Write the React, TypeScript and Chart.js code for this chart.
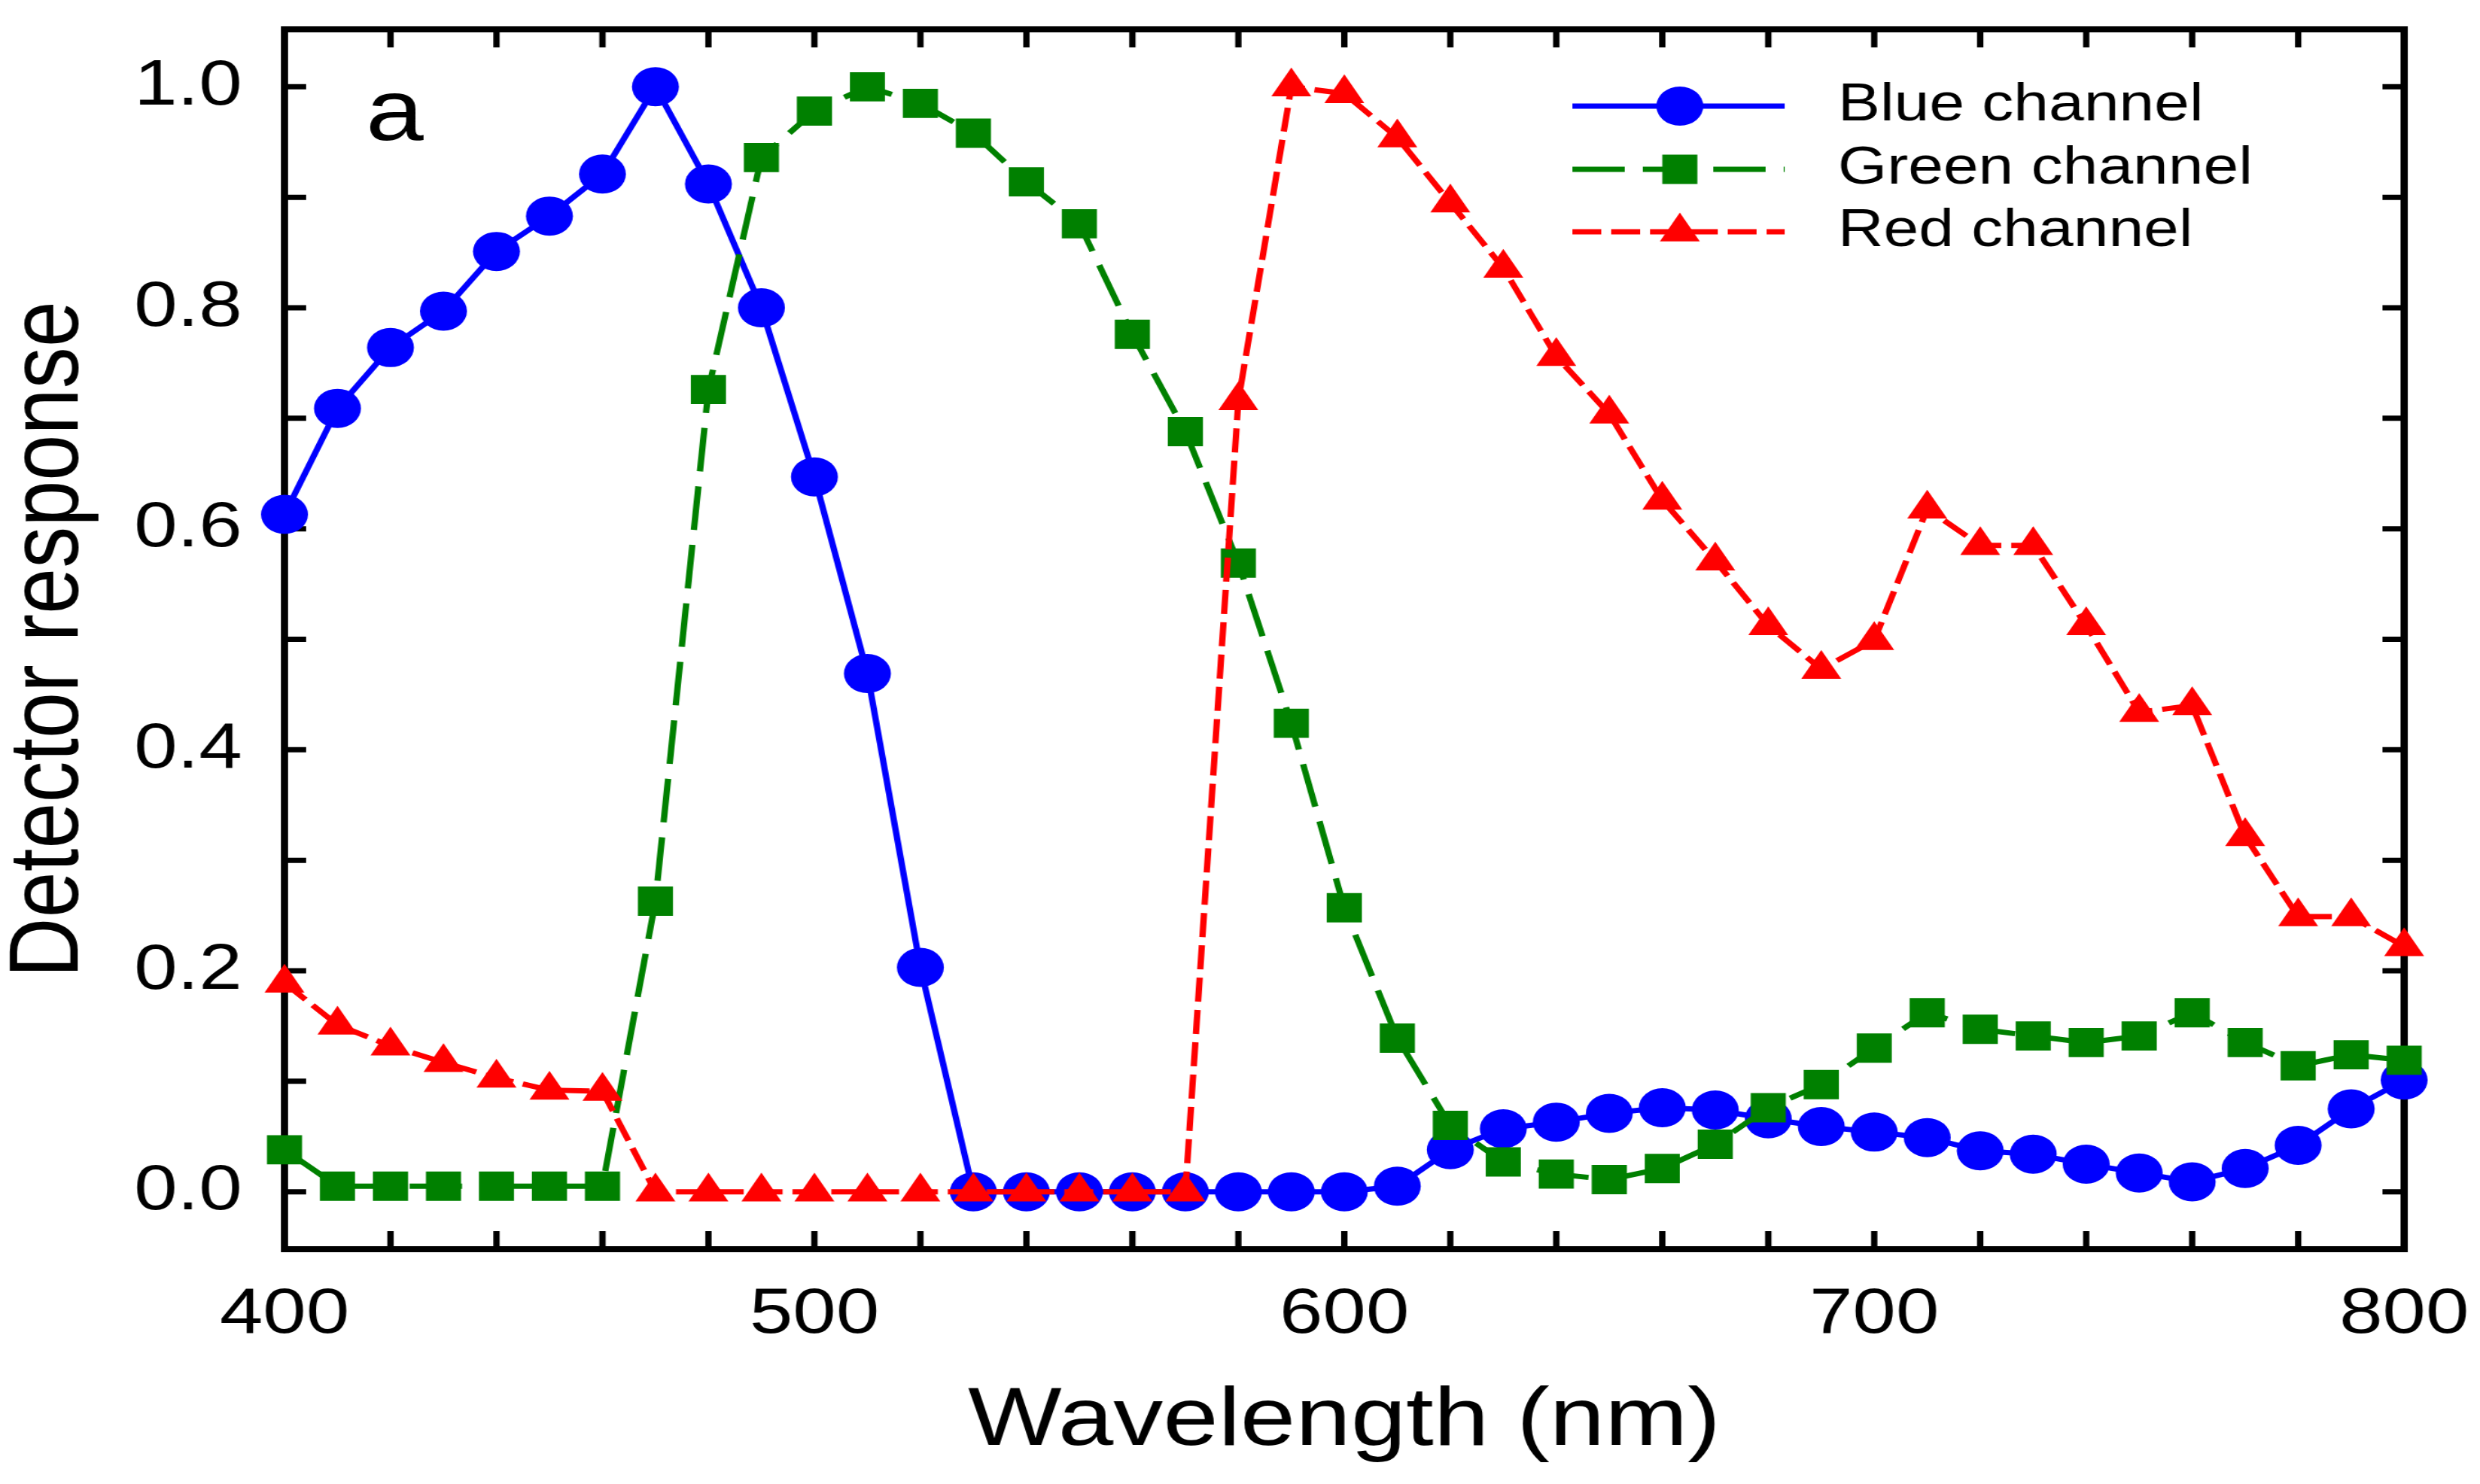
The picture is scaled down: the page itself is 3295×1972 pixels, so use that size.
import React, { useRef, useEffect } from "react";
import { Chart, registerables } from "chart.js";
import { drawPoint } from "chart.js/helpers";

Chart.register(...registerables);

// wavelength (nm) of every sample
const wavelengths = [
  400, 410, 420, 430, 440, 450, 460, 470, 480, 490, 500, 510, 520, 530, 540, 550, 560, 570, 580, 590, 600,
  610, 620, 630, 640, 650, 660, 670, 680, 690, 700, 710, 720, 730, 740, 750, 760, 770, 780, 790, 800,
];

const blueChannel = [
  0.613, 0.709, 0.764, 0.797, 0.851, 0.883, 0.921, 1.0, 0.912, 0.8, 0.647, 0.469, 0.203, 0, 0, 0, 0, 0, 0, 0, 0,
  0.005, 0.038, 0.057, 0.063, 0.071, 0.076, 0.074, 0.066, 0.059, 0.054, 0.049, 0.037, 0.034, 0.025, 0.017, 0.009,
  0.021, 0.042, 0.075, 0.101,
];

const greenChannel = [
  0.038, 0.005, 0.005, 0.005, 0.005, 0.005, 0.005, 0.263, 0.726, 0.936, 0.978, 1.0, 0.985, 0.958, 0.914, 0.876,
  0.776, 0.688, 0.569, 0.424, 0.257, 0.139, 0.06, 0.027, 0.016, 0.011, 0.021, 0.043, 0.076, 0.097, 0.13, 0.162,
  0.147, 0.141, 0.135, 0.141, 0.162, 0.135, 0.114, 0.124, 0.119,
];

const redChannel = [
  0.189, 0.151, 0.132, 0.117, 0.103, 0.092, 0.091, 0, 0, 0, 0, 0, 0, 0, 0, 0, 0, 0, 0.716, 1.0, 0.994, 0.954,
  0.895, 0.836, 0.756, 0.704, 0.626, 0.571, 0.5125, 0.473, 0.499, 0.618, 0.585, 0.585, 0.5125, 0.434, 0.44,
  0.3215, 0.249, 0.249, 0.222,
];

const xTickLabels = [400, 500, 600, 700, 800];
const yTickLabels = [0, 0.2, 0.4, 0.6, 0.8, 1.0];
// inward tick marks on all four sides
const xTickMarks = [400, 420, 440, 460, 480, 500, 520, 540, 560, 580, 600, 620, 640, 660, 680, 700, 720, 740, 760, 780, 800];
const yTickMarks = [0, 0.1, 0.2, 0.3, 0.4, 0.5, 0.6, 0.7, 0.8, 0.9, 1.0];

// the original figure is a bit wider than its fonts/markers, so draw narrower and stretch with css
const STRETCH = 1.2;
const OUT_W = 3295;
const OUT_H = 1972;
const W = Math.round(OUT_W / STRETCH);
const FONT = "'Liberation Sans', Arial, Helvetica, sans-serif";

const TICK_LEN = 24;

const framePlugin = {
  id: "frame",
  beforeDatasetsDraw(chart: any) {
    const { ctx, chartArea: a, scales } = chart;
    const xs = scales.x;
    const ys = scales.y;
    ctx.save();
    ctx.strokeStyle = "#000";
    ctx.lineWidth = 7;
    ctx.beginPath();
    for (const v of xTickMarks) {
      const px = xs.getPixelForValue(v);
      ctx.moveTo(px, a.top);
      ctx.lineTo(px, a.top + TICK_LEN);
      ctx.moveTo(px, a.bottom);
      ctx.lineTo(px, a.bottom - TICK_LEN);
    }
    for (const v of yTickMarks) {
      const py = ys.getPixelForValue(v);
      ctx.moveTo(a.left, py);
      ctx.lineTo(a.left + TICK_LEN, py);
      ctx.moveTo(a.right, py);
      ctx.lineTo(a.right - TICK_LEN, py);
    }
    ctx.stroke();
    ctx.lineWidth = 8;
    ctx.strokeRect(a.left, a.top, a.right - a.left, a.bottom - a.top);
    ctx.restore();
  },
};

// legend drawn inside the plot: line sample + marker + label
const legendPlugin = {
  id: "insideLegend",
  afterDatasetsDraw(chart: any) {
    const { ctx } = chart;
    const rows = [141, 225, 308];
    const x0 = 1741;
    const x1 = 1976;
    const xm = 1860;
    ctx.save();
    chart.data.datasets.forEach((ds: any, i: number) => {
      const y = rows[i];
      ctx.strokeStyle = ds.borderColor;
      ctx.lineWidth = ds.borderWidth;
      ctx.setLineDash(ds.borderDash || []);
      ctx.beginPath();
      ctx.moveTo(x0, y);
      ctx.lineTo(x1, y);
      ctx.stroke();
      ctx.setLineDash([]);
      ctx.fillStyle = ds.pointBackgroundColor;
      ctx.strokeStyle = ds.pointBackgroundColor;
      drawPoint(ctx, { pointStyle: ds.pointStyle, radius: ds.pointRadius, rotation: 0, borderWidth: 0 }, xm, y);
      ctx.fillStyle = "#000";
      ctx.font = `70px ${FONT}`;
      ctx.textBaseline = "middle";
      ctx.textAlign = "left";
      ctx.fillText(ds.label, 2035, y);
    });
    // panel letter
    ctx.font = `115px ${FONT}`;
    ctx.textBaseline = "alphabetic";
    ctx.fillText("a", 405, 186);
    ctx.restore();
  },
};

const zeroPadding = (s: any) => {
  s.paddingLeft = 0;
  s.paddingRight = 0;
  s.paddingTop = 0;
  s.paddingBottom = 0;
};

export default function App() {
  const canvasRef = useRef<HTMLCanvasElement | null>(null);
  const chartRef = useRef<Chart | null>(null);

  useEffect(() => {
    document.body.style.margin = "0";
    document.body.style.overflow = "hidden";
    const canvas = canvasRef.current;
    if (!canvas) return;
    if (chartRef.current) chartRef.current.destroy();

    const toPoints = (vals: number[]) => wavelengths.map((w, i) => ({ x: w, y: vals[i] }));

    chartRef.current = new Chart(canvas, {
      type: "line",
      data: {
        datasets: [
          {
            label: "Blue channel",
            data: toPoints(blueChannel),
            borderColor: "#0000ff",
            backgroundColor: "#0000ff",
            pointBackgroundColor: "#0000ff",
            borderWidth: 7,
            pointStyle: "circle",
            pointRadius: 26,
            pointBorderWidth: 0,
            tension: 0,
            clip: false,
            order: 3,
          },
          {
            label: "Green channel",
            data: toPoints(greenChannel),
            borderColor: "#008000",
            backgroundColor: "#008000",
            pointBackgroundColor: "#008000",
            borderWidth: 7,
            borderDash: [58, 20],
            pointStyle: "rect",
            pointRadius: 27.5,
            pointBorderWidth: 0,
            tension: 0,
            clip: false,
            order: 2,
          },
          {
            label: "Red channel",
            data: toPoints(redChannel),
            borderColor: "#ff0000",
            backgroundColor: "#ff0000",
            pointBackgroundColor: "#ff0000",
            borderWidth: 7,
            borderDash: [32, 11],
            pointStyle: "triangle",
            pointRadius: 25.5,
            pointBorderWidth: 0,
            tension: 0,
            clip: false,
            order: 1,
          },
        ],
      },
      options: {
        animation: false,
        responsive: false,
        devicePixelRatio: 1,
        layout: { padding: { left: 0, right: 84, top: 39, bottom: 0 } },
        plugins: {
          legend: { display: false },
          tooltip: { enabled: false },
        },
        scales: {
          x: {
            type: "linear",
            min: 400,
            max: 800,
            grid: { display: false, drawTicks: false },
            border: { display: false },
            afterBuildTicks: (s: any) => {
              s.ticks = xTickLabels.map((v) => ({ value: v }));
            },
            ticks: {
              color: "#000",
              font: { size: 86, family: FONT },
              padding: 36,
              maxRotation: 0,
              autoSkip: false,
              callback: (v: any) => String(v),
            },
            title: {
              display: true,
              text: "Wavelength (nm)",
              color: "#000",
              font: { size: 110, family: FONT, lineHeight: 1 },
              padding: { top: 0, bottom: 27 },
            },
            afterFit: (s: any) => {
              s.height = 312;
              zeroPadding(s);
            },
          },
          y: {
            type: "linear",
            min: -0.052,
            max: 1.052,
            grid: { display: false, drawTicks: false },
            border: { display: false },
            afterBuildTicks: (s: any) => {
              s.ticks = yTickLabels.map((v) => ({ value: v }));
            },
            ticks: {
              color: "#000",
              font: { size: 86, family: FONT },
              padding: 47,
              autoSkip: false,
              callback: (v: any) => Number(v).toFixed(1),
            },
            title: {
              display: true,
              text: "Detector response",
              color: "#000",
              font: { size: 110, family: FONT, lineHeight: 1 },
              padding: { top: 1, bottom: 0 },
            },
            afterFit: (s: any) => {
              s.width = 315;
              zeroPadding(s);
            },
          },
        },
      } as any,
      plugins: [framePlugin, legendPlugin],
    });

    return () => {
      if (chartRef.current) {
        chartRef.current.destroy();
        chartRef.current = null;
      }
    };
  }, []);

  return (
    <canvas
      ref={canvasRef}
      width={W}
      height={OUT_H}
      style={{ width: `${OUT_W}px`, height: `${OUT_H}px`, display: "block" }}
    />
  );
}
